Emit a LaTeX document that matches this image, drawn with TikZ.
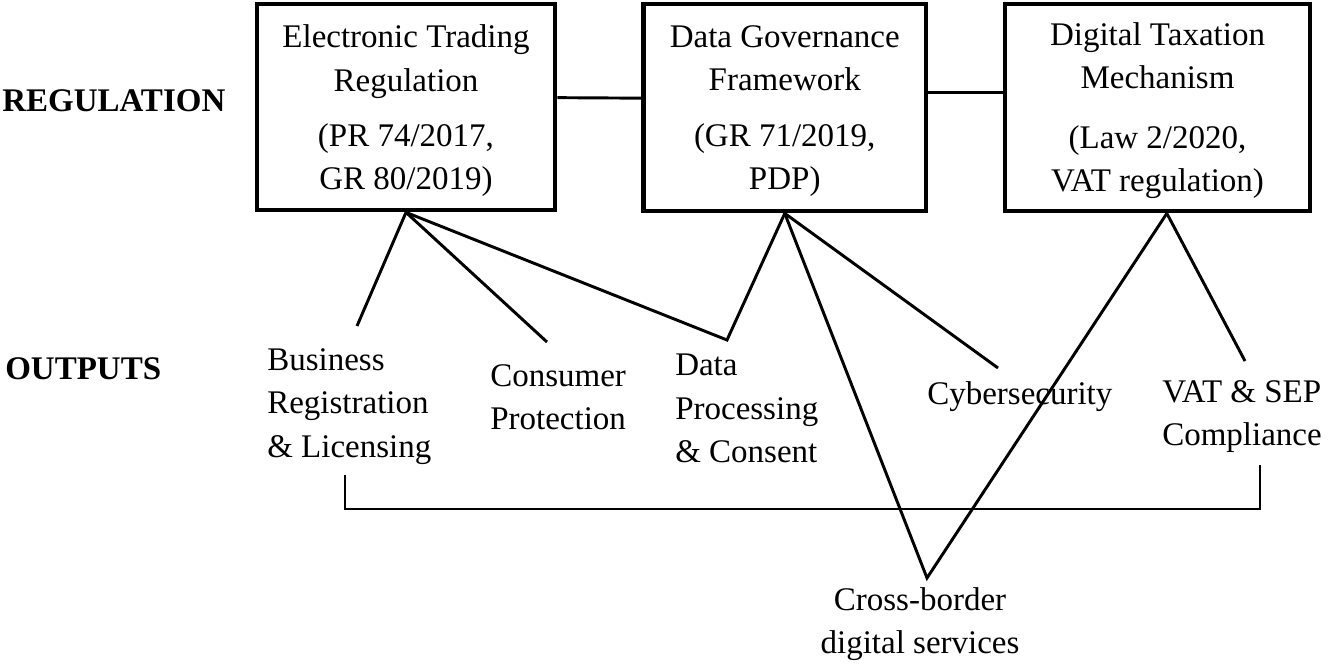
\documentclass[tikz,border=0pt]{standalone}
\usepackage{fontspec}
\setmainfont{Liberation Serif}
\usepackage{tikz}

\begin{document}
\begin{tikzpicture}[x=0.75pt,y=0.75pt,yscale=-1,xscale=1,
  regbox/.style={draw,line width=3.6pt,inner sep=0pt,align=center,font=\fontsize{24.75}{32.5}\selectfont},
  outlbl/.style={inner sep=0pt,align=left,font=\fontsize{24.75}{32.5}\selectfont},
  sidelbl/.style={inner sep=0pt,anchor=base west,font=\fontsize{24.75}{32.5}\selectfont\bfseries},
  link/.style={line width=2.2pt}]
\path[use as bounding box] (0,0) rectangle (1340,666);

%Shape: Rectangle [regulation boxes]
\node[regbox,minimum width=223.5pt,minimum height=154.5pt] (etr) at (406,107) {\rule{0pt}{23pt}Electronic Trading\\Regulation\\[9pt](PR 74/2017,\\GR 80/2019)};
\node[regbox,minimum width=211.9pt,minimum height=155.25pt] (dgf) at (784.75,107.5) {\rule{0pt}{22pt}Data Governance\\Framework\\[9pt](GR 71/2019,\\PDP)};
\node[regbox,minimum width=228.75pt,minimum height=155.25pt] (dtm) at (1157.5,107.5) {\rule{0pt}{22pt}Digital Taxation\\Mechanism\\[12pt](Law 2/2020,\\VAT regulation)};

% Text Node
\node[sidelbl] (lreg) at (2,111.7) {REGULATION};
% Text Node
\node[sidelbl] (lout) at (5,380) {OUTPUTS};

% Text Node
\node[outlbl,anchor=north west] (bus) at (267,348.5) {Business\\Registration\\\& Licensing};
% Text Node
\node[outlbl,anchor=north west] (con) at (490,364) {Consumer\\Protection};
% Text Node
\node[outlbl,anchor=north west] (dpc) at (675,354) {Data\\Processing\\\& Consent};
% Text Node
\node[outlbl,anchor=base west] (cyb) at (927,405) {Cybersecurity};
% Text Node
\node[outlbl,anchor=north west] (vat) at (1162,380) {VAT \& SEP\\Compliance};
% Text Node
\node[outlbl,align=center,anchor=north] (cbd) at (920,587) {Cross-border\\digital services};

%Free ends of the links
\coordinate (busTip) at (357,326);
\coordinate (conTip) at (547,342);
\coordinate (dpcTip) at (727,340);
\coordinate (cybTip) at (998,368);
\coordinate (vatTip) at (1245,361);
\coordinate (cbdTip) at (927,578);
\coordinate (brL) at (345,475);
\coordinate (brMid) at (800,509);
\coordinate (brR) at (1260,465);

%Straight Lines [between boxes]
\draw[link] ([yshift=-7pt]etr.east) -- ([yshift=-7pt]dgf.west);
\draw[link] ([yshift=-11pt]dgf.east) -- ([yshift=-11pt]dtm.west);

%Straight Lines [boxes to outputs]
\draw[link] (etr.south) -- (busTip);
\draw[link] (etr.south) -- (conTip);
\draw[link] (etr.south) -- (dpcTip) -- (dgf.south);
\draw[link] (dgf.south) -- (cybTip);
\draw[link] (dgf.south) -- (cbdTip) -- ([xshift=7pt]dtm.south);
\draw[link] ([xshift=7pt]dtm.south) -- (vatTip);

%Bracket under the outputs
\draw[link] (brL) |- (brMid) -| (brR);

\end{tikzpicture}
\end{document}
